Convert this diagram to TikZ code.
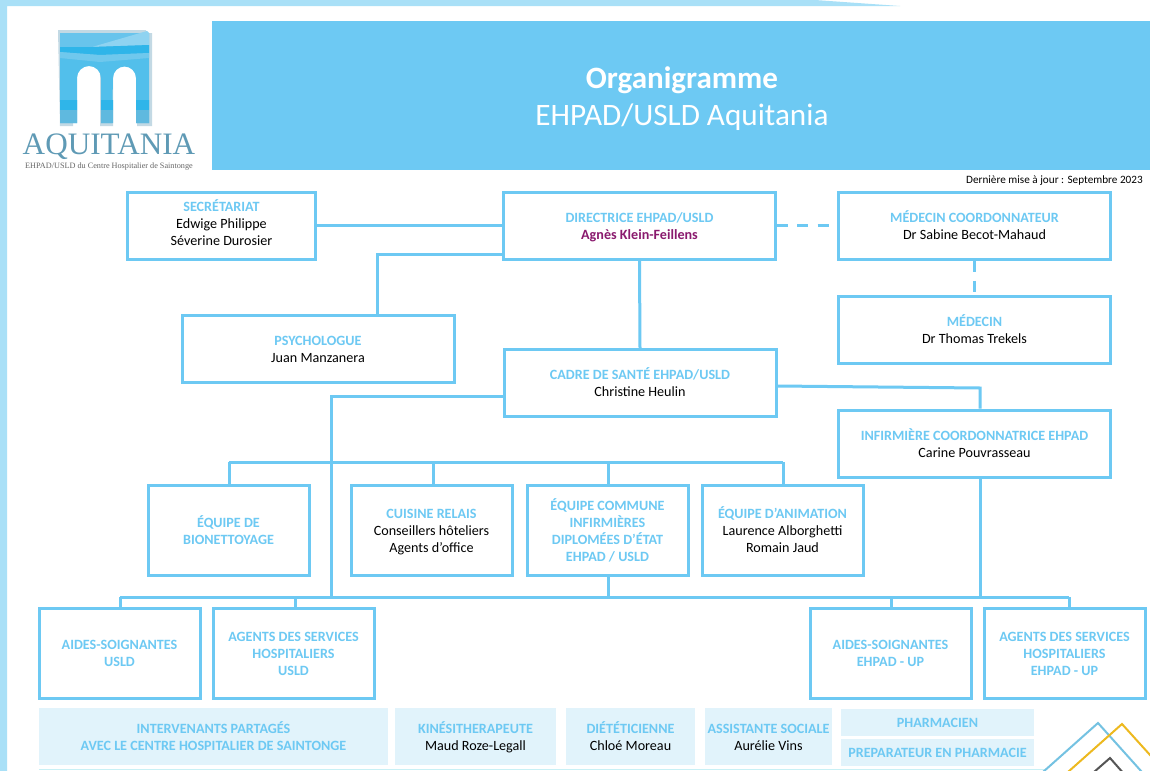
\documentclass[tikz,border=0pt]{standalone}
\usepackage{fontspec}
\setmainfont{Carlito}
\newfontfamily\logofont{Liberation Serif}
\definecolor{bleu}{HTML}{6DC9F3}
\definecolor{bleupale}{HTML}{E1F3FB}
\definecolor{bord}{HTML}{A9E0F7}
\definecolor{violet}{HTML}{8A1A6E}
\definecolor{logotxt}{HTML}{5F9AB5}
\definecolor{logohalo}{HTML}{C3D9E4}
\definecolor{logoa}{HTML}{52BFEB}
\definecolor{logob}{HTML}{68C4EC}
\definecolor{logoc}{HTML}{8FD3F1}
\definecolor{logod}{HTML}{2FB5E9}
\definecolor{logoe}{HTML}{6FC8ED}
\definecolor{logof}{HTML}{5FB9DF}
\definecolor{traitb}{HTML}{74C2E2}
\definecolor{traitj}{HTML}{EDB91F}
\definecolor{traitg}{HTML}{555555}
\definecolor{filet}{HTML}{C8F0F5}
\tikzset{
  haut/.store in=\hautnode, haut=12pt,
  texte/.style={align=center,inner sep=0pt,text=black,font=\fontsize{10.6}{12.75}\selectfont},
  corps/.style={texte,execute at end node=\strut},
  boite/.style 2 args={corps,draw=bleu,line width=2.25pt,fill=white,minimum width=#1*0.75pt,minimum height=#2*0.75pt},
  pale/.style 2 args={corps,fill=bleupale,minimum width=#1*0.75pt,minimum height=#2*0.75pt},
  lien/.style={draw=bleu,line width=2.25pt},
  tirets/.style={draw=bleu,line width=1.75pt,dash pattern=on 8.25pt off 7pt},
}
\newcommand{\titre}[1]{\textcolor{bleu}{\bfseries #1}}
\newcommand{\haute}{\rule{0pt}{\hautnode}}
\begin{document}
\begin{tikzpicture}[x=0.75pt,y=-0.75pt]
\useasboundingbox (0,0) rectangle (1150,771);
\fill[white] (0,0) rectangle (1150,771);
\fill[bord] (0,0)--(815,0)--(900,6)--(7,6)--(7,771)--(0,771)--cycle;

\fill[bleu] (212,21) rectangle (1150,170);
\node[texte,text=white,font=\fontsize{23.3}{26}\selectfont\bfseries] (orga) at (682,80) {Organigramme};
\node[texte,text=white,font=\fontsize{23.4}{26}\selectfont] (ehpad) at (682,117) {EHPAD/USLD Aquitania};
\node[texte,anchor=east,font=\fontsize{8.4}{10}\selectfont] (maj) at (1143,181) {Dernière mise à jour : Septembre 2023};

\fill[logohalo] (58,30)--(146,30)--(146,33)--(152,33)--(152,126)--(137,126)--(137,75) arc (360:180:12)--(113,126)--(100,126)--(100,75) arc (360:180:13.5)--(73,126)--(60,126)--cycle;
\fill[logoa] (60,33)--(149,33)--(149,123)--(136,123)--(136,78) arc (360:180:11.5)--(112,123)--(101,123)--(101,78) arc (360:180:12)--(77,123)--(60,123)--cycle;
\fill[logob] (60,33) rectangle (149,47);
\fill[logoc] (92,47)--(147,31)--(149,33)--(149,45)--cycle;
\fill[logod] (60,47)--(92,47)--(149,45)--(149,53)--(100,55)--(60,52)--cycle;
\fill[logoe] (60,52)--(100,55)--(149,53)--(149,58)--(100,62)--(60,58)--cycle;
\fill[logod] (60,100) rectangle (77,110) (101,100) rectangle (113,110) (136,100) rectangle (149,110);
\fill[logof] (60,110) rectangle (77,123) (101,110) rectangle (113,123) (136,110) rectangle (149,123);
\node[texte,text=logotxt,font=\logofont\fontsize{23.4}{24}\selectfont] (logo) at (109,147) {AQUITANIA};
\node[texte,text=black!60,font=\logofont\fontsize{6.15}{7}\selectfont] (logosous) at (109,166.5) {EHPAD/USLD du Centre Hospitalier de Saintonge};

\node[boite={188}{67},haut=9pt] (sec) at (221.5,225.5) {\haute\titre{SECRÉTARIAT}\\Edwige Philippe\\Séverine Durosier};
\node[boite={272}{67}] (dir) at (639.5,225.5) {\haute\titre{DIRECTRICE EHPAD/USLD}\\\textcolor{violet}{\bfseries Agnès Klein-Feillens}};
\node[boite={272}{67}] (coord) at (974.5,225.5) {\haute\titre{MÉDECIN COORDONNATEUR}\\Dr Sabine Becot-Mahaud};
\node[boite={272}{67}] (med) at (974.5,330) {\haute\titre{MÉDECIN}\\Dr Thomas Trekels};
\node[boite={272}{67}] (psy) at (318,349) {\haute\titre{PSYCHOLOGUE}\\Juan Manzanera};
\node[boite={272}{67}] (cadre) at (640,383) {\haute\titre{CADRE DE SANTÉ EHPAD/USLD}\\Christine Heulin};
\node[boite={272}{67}] (inf) at (974.5,443.5) {\haute\titre{INFIRMIÈRE COORDONNATRICE EHPAD}\\Carine Pouvrasseau};
\node[boite={161}{90}] (bio) at (228.5,530.5) {\haute\titre{ÉQUIPE DE}\\\titre{BIONETTOYAGE}};
\node[boite={161}{90}] (cui) at (431.5,530.5) {\haute\titre{CUISINE RELAIS}\\Conseillers hôteliers\\Agents d’office};
\node[boite={161}{90}] (ide) at (607.5,530.5) {\haute\titre{ÉQUIPE COMMUNE}\\\titre{INFIRMIÈRES}\\\titre{DIPLOMÉES D’ÉTAT}\\\titre{EHPAD / USLD}};
\node[boite={161}{90}] (ani) at (782.5,530.5) {\haute\titre{ÉQUIPE D’ANIMATION}\\Laurence Alborghetti\\Romain Jaud};
\node[boite={161}{90}] (asu) at (119.5,653) {\haute\titre{AIDES-SOIGNANTES}\\\titre{USLD}};
\node[boite={161}{90}] (ashu) at (293.5,653) {\haute\titre{AGENTS DES SERVICES}\\\titre{HOSPITALIERS}\\\titre{USLD}};
\node[boite={161}{90}] (ase) at (890.5,653) {\haute\titre{AIDES-SOIGNANTES}\\\titre{EHPAD - UP}};
\node[boite={161}{90}] (ashe) at (1064.5,653) {\haute\titre{AGENTS DES SERVICES}\\\titre{HOSPITALIERS}\\\titre{EHPAD - UP}};

\node[pale={349}{57}] (part) at (213.5,736.5) {\haute\titre{INTERVENANTS PARTAGÉS}\\\titre{AVEC LE CENTRE HOSPITALIER DE SAINTONGE}};
\node[pale={161}{57}] (kin) at (475.5,736.5) {\haute\titre{KINÉSITHERAPEUTE}\\Maud Roze-Legall};
\node[pale={129}{57}] (die) at (630.5,736.5) {\haute\titre{DIÉTÉTICIENNE}\\Chloé Moreau};
\node[pale={127}{57}] (soc) at (768.5,736.5) {\haute\titre{ASSISTANTE SOCIALE}\\Aurélie Vins};
\node[pale={193}{27}] (pha) at (937.5,722.5) {\haute\titre{PHARMACIEN}};
\node[pale={193}{27}] (pre) at (937.5,752.5) {\haute\titre{PREPARATEUR EN PHARMACIE}};

\coordinate (psyg) at (503,254);
\coordinate (psyh) at (377,254);
\coordinate (cadg) at (504,396);
\coordinate (cadc) at (331,396);
\coordinate (busa) at (229,462);
\coordinate (busb) at (783,462);
\coordinate (busc) at (120,597);
\coordinate (busd) at (1069,597);
\coordinate (infd) at (777,386);
\coordinate (infc) at (980,388);
\coordinate (infb) at (980,478);

\draw[lien] (sec.east)--(dir.west);
\draw[lien] (psyg)--(psyh)--(psyh|-psy.north);
\draw[lien] (dir.south)--(cadre.north);
\draw[tirets] (dir.east)--(coord.west);
\draw[tirets] (coord.south)--(med.north);
\draw[lien] (cadg)--(cadc)--(cadc|-busc);
\draw[lien] (busa)--(busb);
\draw[lien] (busa)--(busa|-bio.north);
\draw[lien] (433,462)--(433,485);
\draw[lien] (608,462)--(608,485);
\draw[lien] (busb)--(busb|-ani.north);
\draw[lien] (608,576)--(608,597);
\draw[lien] (busc)--(busd);
\draw[lien] (busc)--(busc|-asu.north);
\draw[lien] (295,597)--(295,608);
\draw[lien] (891,597)--(891,608);
\draw[lien] (busd)--(1069,608);
\draw[lien] (infd)--(infc)--(inf.north-|infc);
\draw[lien] (infb)--(infb|-busc);

\draw[draw=filet,line width=0.75pt] (39,769.5)--(1046,769.5);
\begin{scope}
\clip (0,0) rectangle (1150,771);
\draw[line width=1.5pt,draw=traitb] (1043,772)--(1098,723)--(1150,781);
\draw[line width=1.5pt,draw=traitj] (1068,772)--(1122,724)--(1160,766);
\draw[line width=1.5pt,draw=traitg] (1094,772)--(1110,758)--(1125,775);
\end{scope}
\end{tikzpicture}
\end{document}
